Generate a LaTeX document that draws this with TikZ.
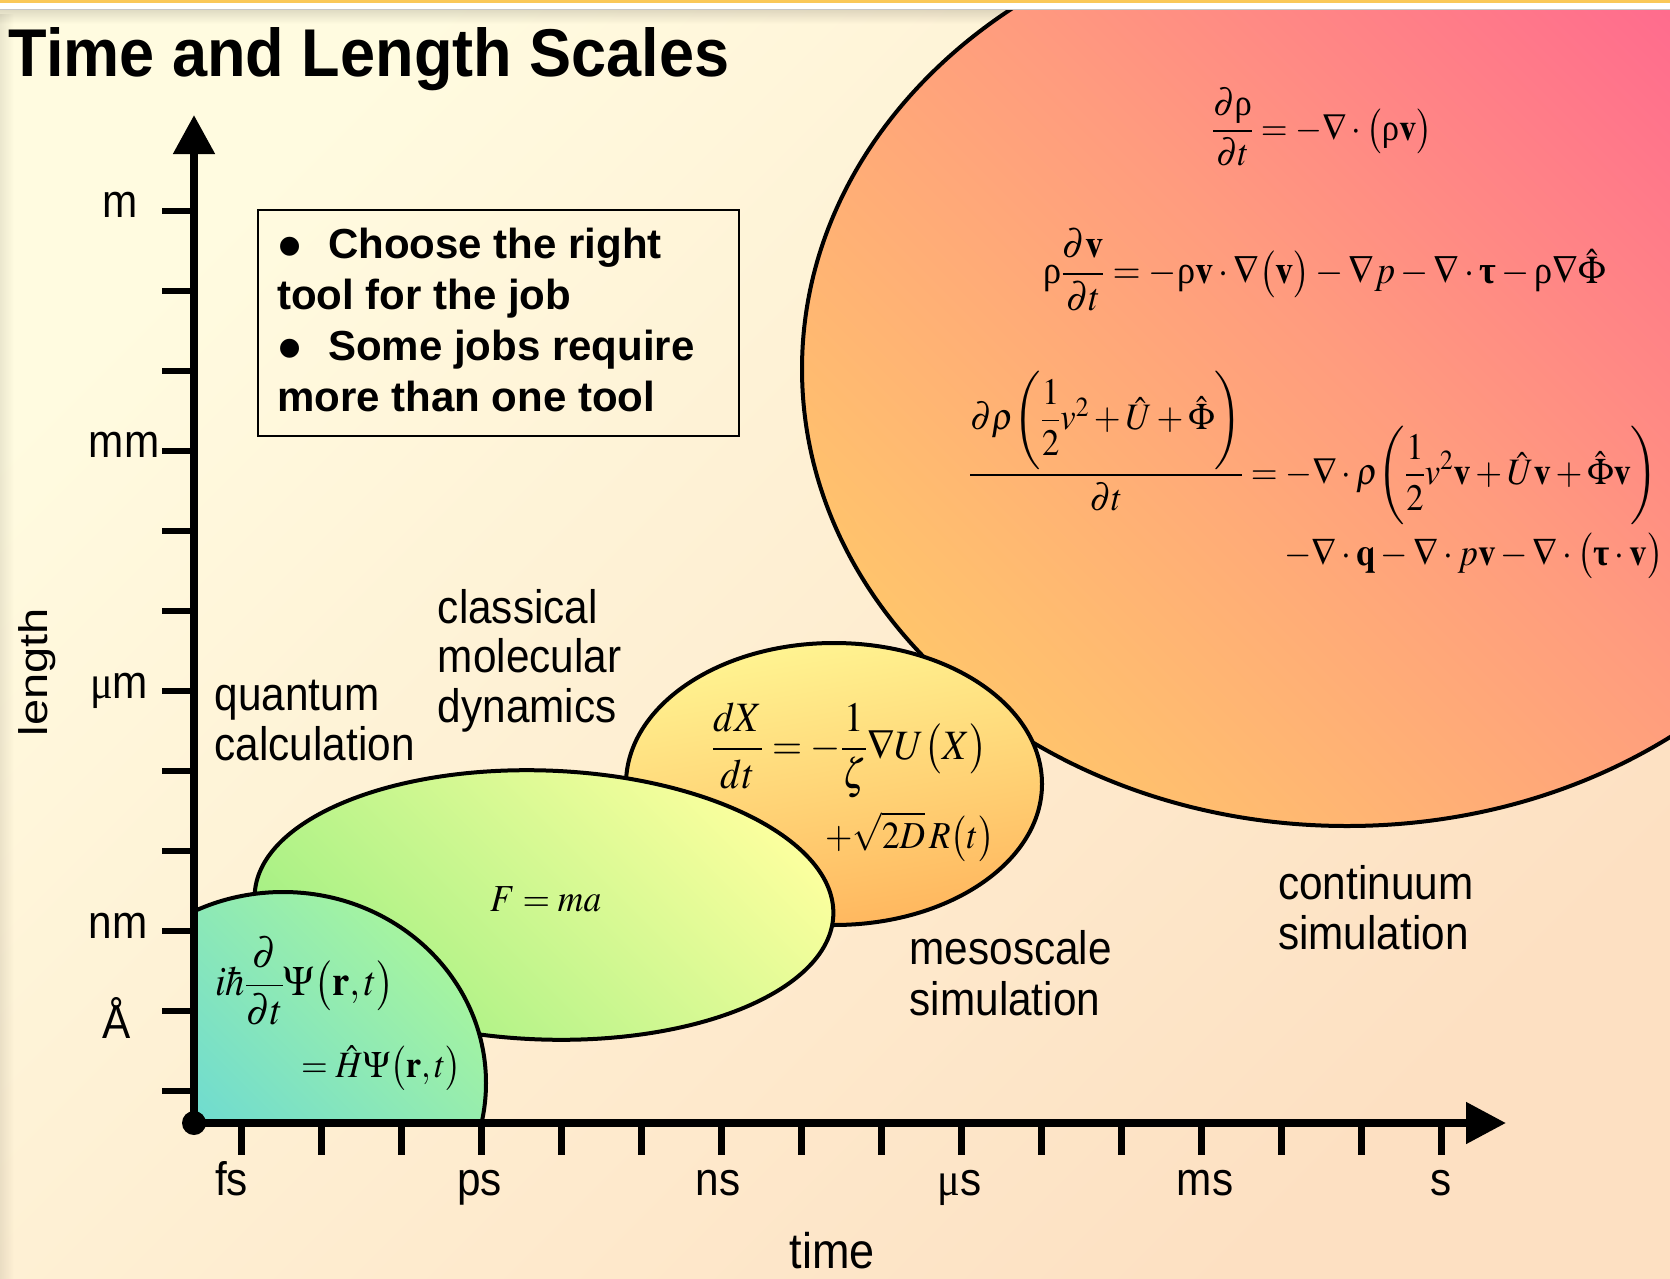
\documentclass[tikz,border=0pt]{standalone}
\usepackage{amsmath}
\usepackage{mathptmx}
\usepackage[no-math]{fontspec}
\usepackage{graphicx}
\usetikzlibrary{arrows.meta,fadings}
\newfontfamily\labfont[FakeStretch=0.9]{Liberation Sans}
\newfontfamily\musym[FakeStretch=0.9]{Liberation Serif}
\newfontfamily\serifplain{Liberation Serif}
\newfontfamily\titlefont[FakeStretch=0.933]{Liberation Sans}
\newfontfamily\boxfont{Liberation Sans}
\newfontfamily\plainsans{Liberation Sans}
\newcommand{\eqbox}[2]{\resizebox{#1pt}{!}{\scalebox{1}[1.08]{$\displaystyle #2$}}}
\newcommand{\urho}{\text{\serifplain ρ}}
\newcommand{\btau}{\text{\serifplain\bfseries τ}}
\newcommand{\Lp}{\mathopen{\raisebox{1pt}{\scalebox{1}[0.88]{$\Biggl($}}}}
\newcommand{\Rp}{\mathclose{\raisebox{1pt}{\scalebox{1}[0.88]{$\Biggr)$}}}}
\newcommand{\bul}{\makebox[50pt][l]{\fontsize{66}{66}\selectfont\raisebox{-10pt}{•}}}
\definecolor{bgA}{HTML}{FFFBE0}
\definecolor{bgB}{HTML}{FDE0C2}
\definecolor{bigTop}{HTML}{FF6A8E}
\definecolor{bigMid}{HTML}{FF9C7E}
\definecolor{bigBot}{HTML}{FFC46C}
\definecolor{mesoTop}{HTML}{FFF592}
\definecolor{mesoBot}{HTML}{FFB65E}
\definecolor{mdTop}{HTML}{FBFF9E}
\definecolor{mdBot}{HTML}{A4F084}
\definecolor{qTop}{HTML}{A6F4A0}
\definecolor{qBot}{HTML}{5AD2E2}
\definecolor{band}{HTML}{FAC858}
\begin{document}
\begin{tikzpicture}[x=1pt,y=-1pt,
  blob/.style={draw=black, line width=4pt},
  axisline/.style={line width=8pt},
  ytickline/.style={line width=5.7pt},
  xtickline/.style={line width=6.7pt},
  lab/.style={font=\labfont\fontsize{47}{50}\selectfont, inner sep=0pt, anchor=base west},
  axlab/.style={font=\labfont\fontsize{47}{50}\selectfont, inner sep=0pt, anchor=base},
  boxtxt/.style={font=\boxfont\bfseries\fontsize{42}{51}\selectfont, inner sep=0pt, anchor=base west},
  eq/.style={inner sep=0pt, anchor=west, font=\fontsize{36}{40}\selectfont}]
\useasboundingbox (0,0) rectangle (1670,1279);
\clip (0,0) rectangle (1670,1279);
% background
\fill[top color=bgA, bottom color=bgB, shading angle=45] (0,0) rectangle (1670,1279);
\fill[black, opacity=0.12, path fading=south] (0,10) rectangle (1670,24);
\fill[black, opacity=0.08, path fading=east] (0,10) rectangle (14,1279);
% continuum region
\path[blob, top color=bigTop, bottom color=bigBot, middle color=bigMid, shading angle=-45]
  (1347,369) ellipse [x radius=545pt, y radius=457pt];
% top band
\fill[band] (0,0) rectangle (1670,3.5);
\fill[white] (0,3.5) rectangle (1670,9);
\fill[gray!45] (0,9) rectangle (1670,10.3);
% mesoscale region
\path[blob, top color=mesoTop, bottom color=mesoBot, shading angle=10]
  (834,784) ellipse [x radius=208pt, y radius=141pt];
% molecular dynamics region
\path[blob, top color=mdTop, bottom color=mdBot, shading angle=-45, rotate around={-2:(544,905)}]
  (544,905) ellipse [x radius=289.5pt, y radius=134.5pt];
% quantum region
\begin{scope}
  \clip (194,0) rectangle (1670,1123);
  \path[blob, top color=qTop, bottom color=qBot, shading angle=-45]
    (283,1083) ellipse [x radius=203pt, y radius=191pt];
\end{scope}
% title
\node[font=\titlefont\bfseries\fontsize{67.6}{70}\selectfont, inner sep=0pt, anchor=base west] (title) at (8.5,76.7) {Time and Length Scales};
% tip box
\node[draw=black, line width=1.8pt, minimum width=481pt, minimum height=226pt, inner sep=0pt, anchor=north west] (tipbox) at (257,209) {};
\node[boxtxt] (tip1) at (278,258.3) {\bul Choose the right};
\node[boxtxt] (tip2) at (277,309.3) {tool for the job};
\node[boxtxt] (tip3) at (278,360) {\bul Some jobs require};
\node[boxtxt] (tip4) at (277,411.7) {more than one tool};
% region labels
\node[lab] (cmd1) at (437.7,623) {classical};
\node[lab] (cmd2) at (437.7,672.5) {molecular};
\node[lab] (cmd3) at (437.7,722) {dynamics};
\node[lab] (qc1) at (214.5,710) {quantum};
\node[lab] (qc2) at (214.5,760) {calculation};
\node[lab] (ms1) at (909.5,964) {mesoscale};
\node[lab] (ms2) at (909.5,1015.5) {simulation};
\node[lab] (cs1) at (1278,899) {continuum};
\node[lab] (cs2) at (1278,949.5) {simulation};
% equations
\node[eq] (eqA) at (1212,127) {\eqbox{220}{\frac{\partial\urho}{\partial t}=-\nabla\cdot\bigl(\urho\mathbf{v}\bigr)}};
\node[eq] (eqB) at (1043.5,270) {\eqbox{562}{\urho\frac{\partial\mathbf{v}}{\partial t}=-\urho\mathbf{v}\cdot\nabla\bigl(\mathbf{v}\bigr)-\nabla p-\nabla\cdot\btau-\urho\nabla\hat{\Phi}}};
\node[eq] (eqC1) at (969,448) {\eqbox{689}{\frac{\partial\rho\Lp\dfrac{1}{2}v^{2}+\hat{U}+\hat{\Phi}\Rp}{\partial t}=-\nabla\cdot\rho\Lp\dfrac{1}{2}v^{2}\mathbf{v}+\hat{U}\mathbf{v}+\hat{\Phi}\mathbf{v}\Rp}};
\node[eq] (eqC2) at (1284,556) {\eqbox{379}{-\nabla\cdot\mathbf{q}-\nabla\cdot p\mathbf{v}-\nabla\cdot\bigl(\btau\cdot\mathbf{v}\bigr)}};
\node[eq] (mesoA) at (712,750) {\eqbox{275}{\frac{dX}{dt}=-\frac{1}{\zeta}\nabla U\bigl(X\bigr)}};
\node[eq] (mesoB) at (825,837) {\eqbox{169}{+\sqrt{2D}\,R\bigl(t\bigr)}};
\node[eq] (fma) at (490,899) {\eqbox{111}{F=ma}};
\node[eq] (qA) at (215,981) {\eqbox{179}{i\hbar\frac{\partial}{\partial t}\Psi\bigl(\mathbf{r},t\bigr)}};
\node[eq] (qB) at (301,1068) {\eqbox{160}{=\hat{H}\Psi\bigl(\mathbf{r},t\bigr)}};
% axes
\node[circle, fill=black, minimum size=24pt, inner sep=0pt] (O) at (194,1123) {};
\coordinate (ytip) at (194,115);
\coordinate (xtip) at (1506,1123);
\foreach \k in {0,...,11} \draw[ytickline] (162,{1091-80*\k}) -- (194,{1091-80*\k});
\foreach \k in {0,...,15} \draw[xtickline] ({241.7+80*\k},1123) -- ({241.7+80*\k},1155);
\draw[axisline, -{Triangle[length=39pt,width=40pt]}] (O.center) -- (ytip);
\draw[axisline, -{Triangle[length=40pt,width=40pt]}] (O.center) -- (xtip);
% axis labels
\node[axlab] (lm) at (120,217) {m};
\node[axlab] (lmm) at (124,457) {mm};
\node[axlab] (lum) at (119,698) {{\musym μ}m};
\node[axlab] (lnm) at (118,938) {nm};
\node[axlab] (lA) at (117,1038) {Å};
\node[axlab] (tfs) at (231.5,1195) {fs};
\node[axlab] (tps) at (479.5,1195) {ps};
\node[axlab] (tns) at (718,1195) {ns};
\node[axlab] (tus) at (959.5,1195) {{\musym μ}s};
\node[axlab] (tms) at (1205,1195) {ms};
\node[axlab] (ts) at (1441,1195) {s};
\node[font=\labfont\fontsize{50}{54}\selectfont, inner sep=0pt, anchor=base] (time) at (832,1268) {time};
\node[font=\plainsans\fontsize{47}{50}\selectfont, inner sep=0pt, rotate=90] (length) at (37,672) {\scalebox{1}[0.85]{length}};
\end{tikzpicture}
\end{document}
